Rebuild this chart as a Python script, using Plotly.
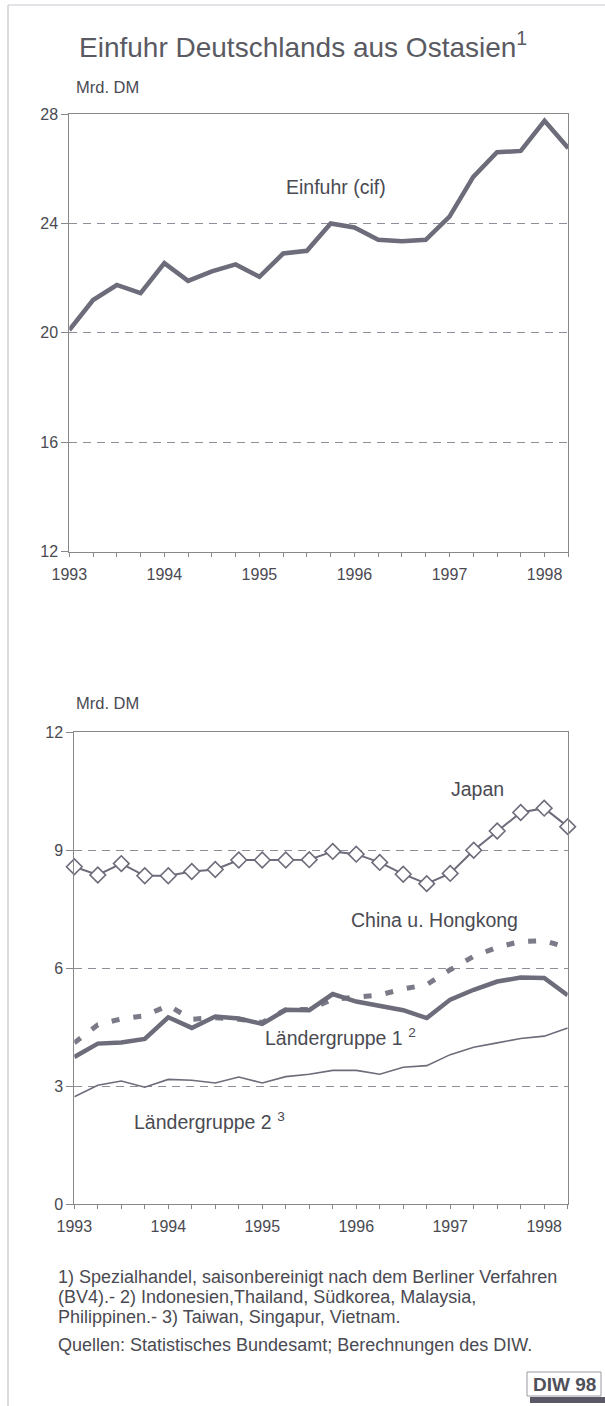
import plotly.graph_objects as go

W, H = 605, 1406

# ---- data (quarterly, 1993 Q1 .. 1998 Q2) ----
quarters = list(range(22))
year_labels = ["1993", "1994", "1995", "1996", "1997", "1998"]
tick_text = [year_labels[i // 4] if i % 4 == 0 else "" for i in quarters]

einfuhr_cif = [20.1, 21.2, 21.75, 21.45, 22.55, 21.9, 22.25, 22.5, 22.05, 22.9, 23.0, 24.0,
               23.85, 23.4, 23.35, 23.4, 24.25, 25.7, 26.6, 26.65, 27.75, 26.75]
japan = [8.58, 8.37, 8.66, 8.35, 8.35, 8.46, 8.51, 8.75, 8.75, 8.75, 8.76, 8.97,
         8.90, 8.69, 8.39, 8.15, 8.41, 9.0, 9.49, 9.96, 10.07, 9.60]
china_hk = [4.10, 4.56, 4.71, 4.79, 5.05, 4.70, 4.74, 4.70, 4.62, 4.94, 4.95, 5.21,
            5.26, 5.32, 5.47, 5.58, 5.96, 6.30, 6.53, 6.68, 6.70, 6.52]
gruppe1 = [3.74, 4.08, 4.11, 4.20, 4.75, 4.48, 4.77, 4.72, 4.58, 4.94, 4.93, 5.34,
           5.15, 5.03, 4.93, 4.73, 5.20, 5.45, 5.66, 5.76, 5.75, 5.31]
gruppe2 = [2.73, 3.02, 3.13, 2.97, 3.17, 3.15, 3.08, 3.23, 3.08, 3.24, 3.30, 3.40,
           3.40, 3.30, 3.48, 3.52, 3.80, 3.99, 4.10, 4.21, 4.27, 4.48]

top_ticks = [12, 16, 20, 24, 28]
bot_ticks = [0, 3, 6, 9, 12]

LINE = "#6c6c7a"
TXT = "#4a4a52"
FONT = "Liberation Sans, Arial, sans-serif"

def px_x(p):
    return p / W

def px_y(p):
    return 1 - p / H

fig = go.Figure()

fig.add_trace(go.Scatter(x=quarters, y=einfuhr_cif, mode="lines",
                         line=dict(color=LINE, width=4.5), xaxis="x", yaxis="y",
                         cliponaxis=False, showlegend=False))

fig.add_trace(go.Scatter(x=quarters, y=china_hk, mode="lines",
                         line=dict(color="#7a7a88", width=5, dash="8px,14px"),
                         xaxis="x2", yaxis="y2", cliponaxis=False, showlegend=False))
fig.add_trace(go.Scatter(x=quarters, y=gruppe2, mode="lines",
                         line=dict(color=LINE, width=1.6),
                         xaxis="x2", yaxis="y2", cliponaxis=False, showlegend=False))
fig.add_trace(go.Scatter(x=quarters, y=gruppe1, mode="lines",
                         line=dict(color=LINE, width=4.5),
                         xaxis="x2", yaxis="y2", cliponaxis=False, showlegend=False))
fig.add_trace(go.Scatter(x=quarters, y=japan, mode="lines+markers",
                         line=dict(color=LINE, width=2),
                         marker=dict(symbol="diamond", size=12, color="white",
                                     line=dict(color=LINE, width=1.6)),
                         xaxis="x2", yaxis="y2", cliponaxis=False, showlegend=False))

xcommon = dict(range=[0, 21], tickmode="array", tickvals=quarters, ticktext=tick_text,
               ticks="outside", ticklen=4, tickcolor="#888", showline=True, mirror=True,
               linecolor="#888", linewidth=1, showgrid=False, zeroline=False,
               automargin=False, ticklabelstandoff=4,
               tickfont=dict(size=16, color=TXT, family=FONT))
ycommon = dict(ticks="outside", ticklen=7, tickcolor="#888", showline=True, mirror=True,
               linecolor="#888", linewidth=1, showgrid=True, gridcolor="#8e8e98",
               griddash="8px,6px", gridwidth=1, zeroline=False, automargin=False,
               tickfont=dict(size=16, color=TXT, family=FONT))

fig.update_layout(
    width=W, height=H, margin=dict(l=0, r=0, t=0, b=0, pad=0), autosize=False,
    paper_bgcolor="white", plot_bgcolor="white",
    font=dict(family=FONT, color=TXT),
    xaxis=dict(domain=[px_x(69.3), px_x(568.3)], anchor="y", **xcommon),
    yaxis=dict(domain=[px_y(551.7), px_y(114)], anchor="x", range=[12, 28],
               tickvals=top_ticks, **ycommon),
    xaxis2=dict(domain=[px_x(74.3), px_x(567.7)], anchor="y2", **xcommon),
    yaxis2=dict(domain=[px_y(1204), px_y(732.3)], anchor="x2", range=[0, 12],
                tickvals=bot_ticks, **ycommon),
)

ann = []
ann.append(dict(text="Einfuhr Deutschlands aus Ostasien<sup>1</sup>", xref="paper", yref="paper",
                x=px_x(303), y=px_y(45), showarrow=False, xanchor="center", yanchor="middle",
                font=dict(size=28, color="#5a5a62", family=FONT)))
ann.append(dict(text="Mrd. DM", xref="paper", yref="paper", x=px_x(74), y=px_y(87),
                showarrow=False, xanchor="left", yanchor="middle",
                font=dict(size=16.5, color=TXT, family=FONT)))
ann.append(dict(text="Mrd. DM", xref="paper", yref="paper", x=px_x(74), y=px_y(703),
                showarrow=False, xanchor="left", yanchor="middle",
                font=dict(size=16.5, color=TXT, family=FONT)))
# series labels
LBL = 19.5
ann.append(dict(text="Einfuhr (cif)", xref="x", yref="y", x=11.22, y=25.34, showarrow=False,
                font=dict(size=LBL, color=TXT, family=FONT)))
ann.append(dict(text="Japan", xref="x2", yref="y2", x=17.17, y=10.55, showarrow=False,
                font=dict(size=LBL, color=TXT, family=FONT)))
ann.append(dict(text="China u. Hongkong", xref="x2", yref="y2", x=15.33, y=7.22, showarrow=False,
                font=dict(size=LBL, color=TXT, family=FONT)))
ann.append(dict(text="Ländergruppe 1 <sup>2</sup>", xref="x2", yref="y2", x=11.35, y=4.25,
                showarrow=False, font=dict(size=LBL, color=TXT, family=FONT)))
ann.append(dict(text="Ländergruppe 2 <sup>3</sup>", xref="x2", yref="y2", x=5.75, y=2.10,
                showarrow=False, font=dict(size=LBL, color=TXT, family=FONT)))
# footnotes
notes = [
    (1277, "1) Spezialhandel, saisonbereinigt nach dem Berliner Verfahren"),
    (1297, "(BV4).- 2) Indonesien,Thailand, Südkorea, Malaysia,"),
    (1317, "Philippinen.- 3) Taiwan, Singapur, Vietnam."),
    (1345, "Quellen: Statistisches Bundesamt; Berechnungen des DIW."),
]
for yy, t in notes:
    ann.append(dict(text=t, xref="paper", yref="paper", x=px_x(56), y=px_y(yy),
                    showarrow=False, xanchor="left", yanchor="middle",
                    font=dict(size=18, color=TXT, family=FONT)))
ann.append(dict(text="<b>DIW 98</b>", xref="paper", yref="paper", x=px_x(564), y=px_y(1384),
                showarrow=False, xanchor="center", yanchor="middle",
                font=dict(size=19, color="#50505a", family=FONT)))
fig.update_layout(annotations=ann)

shapes = [
    dict(type="line", xref="paper", yref="paper", x0=px_x(8), x1=px_x(8), y0=0, y1=px_y(5),
         line=dict(color="#b8b8c0", width=1)),
    dict(type="line", xref="paper", yref="paper", x0=px_x(8), x1=1, y0=px_y(5), y1=px_y(5),
         line=dict(color="#c8c8d0", width=1)),
    dict(type="rect", xref="paper", yref="paper", x0=px_x(527), x1=px_x(601),
         y0=px_y(1396), y1=px_y(1372), line=dict(color="#9a9aa2", width=1), fillcolor="white"),
    dict(type="rect", xref="paper", yref="paper", x0=px_x(530), x1=1,
         y0=px_y(1403), y1=px_y(1397), line=dict(width=0), fillcolor="#5a5a66"),
]
fig.update_layout(shapes=shapes)

fig.write_html("out.html", config={"displayModeBar": False},
               post_script="document.body.style.margin='0';document.body.style.padding='0';"
                           "document.body.style.overflow='hidden';"
                           "document.documentElement.style.overflow='hidden';")
